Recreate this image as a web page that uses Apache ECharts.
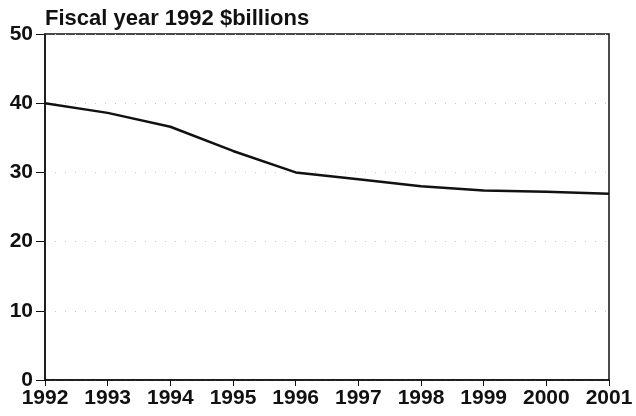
<!DOCTYPE html>
<html>
<head>
<meta charset="utf-8">
<script src="https://cdn.jsdelivr.net/npm/echarts@6/dist/echarts.min.js"></script>
<style>
  html, body { margin: 0; padding: 0; background: #fff; }
  #chart { width: 636px; height: 416px; }
</style>
</head>
<body>
<div id="chart"></div>
<script>
const years = ["1992", "1993", "1994", "1995", "1996", "1997", "1998", "1999", "2000", "2001"];
const spending = [40, 38.6, 36.6, 33.1, 30.0, 29.0, 28.0, 27.4, 27.2, 26.9];
const yTicks = [0, 10, 20, 30, 40, 50];

const chart = echarts.init(document.getElementById("chart"));
const font = "'Liberation Sans', Arial, sans-serif";

chart.setOption({
  animation: false,
  title: {
    text: "Fiscal year 1992 $billions",
    left: 40,
    top: 3,
    textStyle: { fontFamily: font, fontSize: 22, fontWeight: "bold", color: "#111" }
  },
  grid: {
    left: 45, right: 27, top: 34, bottom: 36,
    show: true, borderColor: "#111", borderWidth: 1.5
  },
  xAxis: {
    type: "category",
    data: years,
    boundaryGap: false,
    axisLine: { lineStyle: { color: "#111", width: 1.5 } },
    axisTick: { show: true, length: 6, lineStyle: { color: "#111" } },
    axisLabel: { fontFamily: font, fontSize: 21, fontWeight: "bold", color: "#111", margin: 8 },
    splitLine: { show: false }
  },
  yAxis: {
    type: "value",
    min: yTicks[0],
    max: yTicks[yTicks.length - 1],
    interval: 10,
    axisLine: { show: true, lineStyle: { color: "#111", width: 1.5 } },
    axisTick: { show: true, length: 9, lineStyle: { color: "#111" } },
    axisLabel: { fontFamily: font, fontSize: 21, fontWeight: "bold", color: "#111", margin: 12 },
    splitLine: { show: true, lineStyle: { color: "#c8c8c8", type: [1, 9], width: 1 } }
  },
  series: [{
    type: "line",
    data: spending,
    symbol: "none",
    lineStyle: { color: "#111", width: 2.5 }
  }]
});
</script>
</body>
</html>
